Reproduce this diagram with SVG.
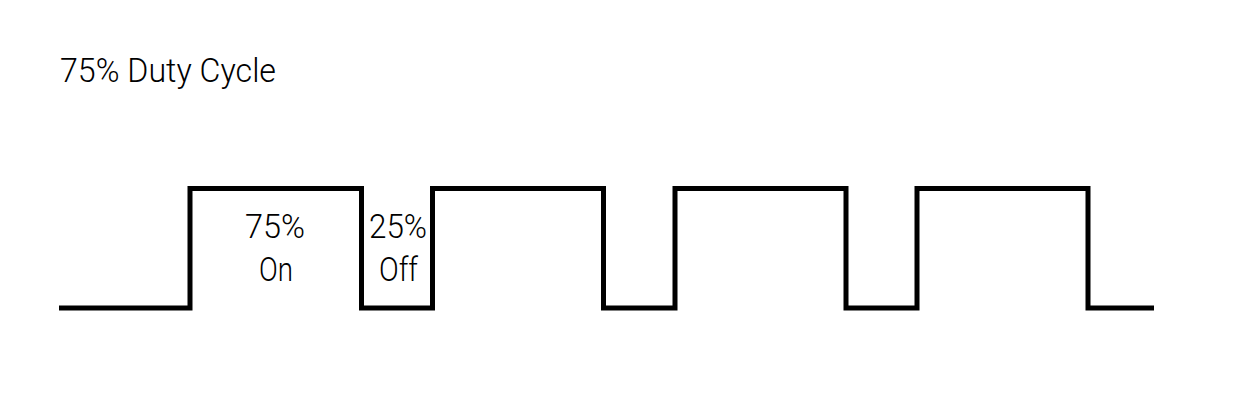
<svg xmlns="http://www.w3.org/2000/svg" width="1249" height="405" viewBox="0 0 1249 405">
<style>
text{font-family:Roboto,"Liberation Sans Narrow","Liberation Sans",sans-serif;font-weight:300;font-size:34px;fill:#000;}
.c{text-anchor:middle;}
.wave{fill:none;stroke:#000;stroke-width:5;stroke-linejoin:miter;stroke-linecap:butt;}
</style>
<rect width="1249" height="405" fill="#fff"/>
<g id="title"><text x="60" y="82" textLength="216" lengthAdjust="spacingAndGlyphs">75% Duty Cycle</text></g>
<g id="connectors">
<path class="wave" d="M59 308 H190 V188.5 H361.5 V308 H432.5 V188.5 H603.5 V308 H675 V188.5 H846 V308 H917 V188.5 H1088 V308 H1154"/>
</g>
<g id="on-label">
<text class="c" x="275" y="238" textLength="60" lengthAdjust="spacingAndGlyphs">75%</text>
<text class="c" x="276" y="281" textLength="34" lengthAdjust="spacingAndGlyphs">On</text>
</g>
<g id="off-label">
<text class="c" x="398" y="238" textLength="58" lengthAdjust="spacingAndGlyphs">25%</text>
<text class="c" x="398.5" y="281" textLength="39" lengthAdjust="spacingAndGlyphs">Off</text>
</g>
</svg>
